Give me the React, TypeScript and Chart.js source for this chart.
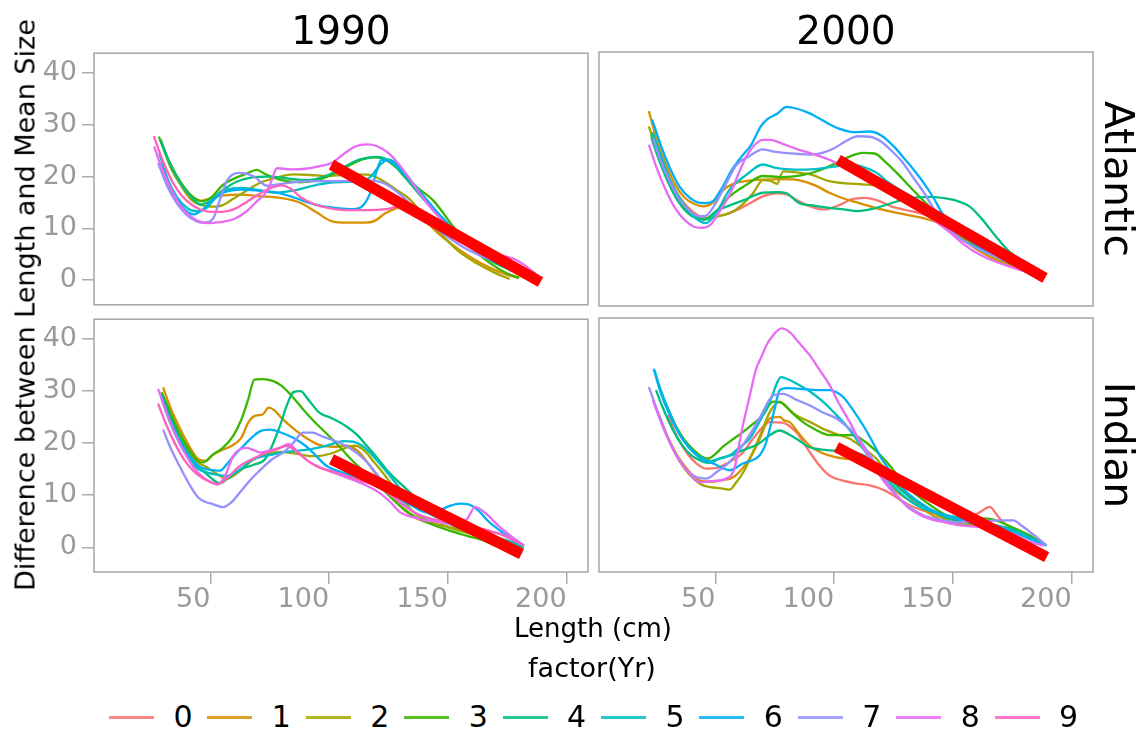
import React, { useEffect, useRef } from "react";
import { Chart, registerables } from "chart.js";
Chart.register(...registerables);

type P = [number, number];

const YEARS = ["0", "1", "2", "3", "4", "5", "6", "7", "8", "9"];
const COLORS = ["#F8766D", "#D89000", "#A3A500", "#39B600", "#00BF7D", "#00BFC4", "#00B0F6", "#9590FF", "#E76BF3", "#FF62BC"];
const COLUMN_TITLES = ["1990", "2000"];
const ROW_TITLES = ["Atlantic", "Indian"];
const X_TICKS = [50, 100, 150, 200];
const Y_TICKS = [0, 10, 20, 30, 40];
const X_LIMITS = [1, 209];
const Y_LIMITS = [-4.75, 43.8];
const Y_TITLE = "Difference between Length and Mean Size";
const X_TITLE = "Length (cm)";
const LEGEND_TITLE = "factor(Yr)";

// ---------- Atlantic 1990 ----------
const A90_1: P[] = [[29,27.2],[33,22.5],[38,18.5],[42,16.3],[46,15.3],[50,15.8],[55,16.3],[62,16.5],[71,16.2],[79,15.9],[88,14.9],[95,13],[101,11.4],[108,11.1],[115,11.1],[119,11.4],[124,13],[130,14],[138,12.5],[146,9],[155,5.8],[165,3],[175,1],[180,0.4]];
const A90_2: P[] = [[29,27],[33,22],[38,18],[42,15.5],[46,14.5],[50,14.2],[54,14.3],[60,15.8],[66,17.5],[71,18.8],[78,19.8],[85,20.4],[92,20.3],[99,20.1],[106,20.3],[113,20.4],[118,20.2],[124,18.8],[129,17.2],[134,15.6],[141,11.8],[148,8.5],[155,5.4],[162,3.3],[169,1.6],[176,0.2]];
const A90_3: P[] = [[28.3,27.7],[32,23.5],[36,20],[40,17.3],[44,15.6],[47,15.2],[51,16.2],[55,18.3],[60,19.6],[65,20.5],[69.5,21.3],[73,20.5],[80,19.3],[88,18.9],[95,19.3],[101,20.3],[108,22],[114,23.3],[119,23.7],[124,23.2],[130,21],[136,18.3],[144,15.3],[152,10.5],[160,6.2],[168,3.2],[175,1.3],[180,0.5]];
const A90_4: P[] = [[29,27],[33,22.5],[38,18.3],[42,16],[46,14.6],[50,15.3],[55,17.3],[61,19],[67,19.8],[75,20],[83,19.6],[91,19.3],[99,20.2],[106,21.8],[113,23.3],[120,23.8],[126,22.8],[132,19.8],[140,15.5],[148,11.5],[156,7.8],[165,4.5],[175,2.2],[185,0.5]];
const A90_5: P[] = [[28.5,24.5],[32,19.5],[36,16],[40,14],[44,13.3],[48,13.8],[52,15.8],[57,17.5],[63,17.8],[70,17.4],[78,16.9],[86,17.4],[94,18.3],[102,18.9],[110,19],[117,19.8],[122,22.5],[125,23.3],[130,21.8],[136,18.3],[144,13.8],[152,9.8],[162,5.8],[172,3.2],[182,1.3],[187,0.5]];
const A90_6: P[] = [[28.7,22.6],[32,18.5],[36,15.5],[40,13.3],[43,12.7],[47,13.7],[51,15.6],[56,17],[63,17.5],[70,17.3],[78,16.9],[85,16],[91,15],[97,14.3],[102,14],[110,13.7],[114,14.3],[117,16.5],[120,21],[122,23.2],[127,22.6],[135,18.8],[147,12.4],[158,7.3],[168,4.3],[176,2.8],[186,0.9]];
const A90_7: P[] = [[28,22.6],[32,18],[36,14.8],[40,12.6],[44,11.4],[47,11.1],[51,11.8],[54,15.5],[57,19.2],[62,20.7],[68,20.1],[74,18.2],[80,18.6],[88,19],[96,19.1],[104,19.1],[112,19.1],[118,19.2],[124,18.5],[130,16.5],[138,13],[146,9.7],[156,6.5],[166,4.3],[176,2.8],[186,1.2]];
const A90_8: P[] = [[26.3,25.8],[30,21],[34,17],[38,14],[42,12.2],[46,11.2],[49,11],[54,11.2],[60,11.8],[65,13.2],[70,15.4],[74,17.3],[76,19.5],[78,21.6],[84,21.4],[90,21.5],[96,22],[101,22.6],[106,24.3],[111,25.8],[116,26.2],[120,25.9],[125,24.5],[130,22],[135,18.8],[141,15],[147,11.8],[153,9.1],[160,6.8],[168,5.3],[174,4.6],[178,4.1],[182,3],[187,1.2]];
const A90_9: P[] = [[26.2,27.8],[30,23],[34,19],[38,16.3],[42,14.6],[46,13.6],[50,13.2],[55,13.2],[60,13.7],[65,15],[70,16.5],[75,17.7],[80,18.3],[84,17.6],[88,16],[94,14.6],[100,13.9],[108,13.5],[116,13.5],[124,13.7],[131,14.3],[137,13.7],[143,12],[150,9.5],[158,6.8],[167,4.5],[177,2.5],[186,0.9]];
const A90_FIT: P[] = [[101,22.3],[189,-0.35]];

// ---------- Atlantic 2000 ----------
const A00_0: P[] = [[24,27],[28,22],[33,17.5],[38,14.3],[43,12.5],[47,12],[52,12.5],[57,13.2],[63,14.5],[70,16.2],[76,16.8],[80,16.6],[85,15.3],[90,14.3],[96,13.7],[102,14.5],[107,15.6],[113,15.9],[119,15.3],[124,14.3],[130,13.6],[136,13],[142,12],[148,10.5],[155,8],[162,6.2],[170,4.2],[178,2.8],[185,1.5]];
const A00_1: P[] = [[22,32.5],[25,27.5],[29,22.5],[33,18.5],[37,16],[41,14.8],[45,14.3],[49,15],[53,17.3],[58,18.7],[64,19.2],[70,19.4],[78,19.5],[85,19.3],[92,18.3],[98,16.9],[104,15.8],[110,15],[119,13.8],[127,13],[134,12.4],[141,11.6],[147,10.5],[154,8],[161,5.8],[168,4.1],[175,2.9],[182,1.9],[188,0.9]];
const A00_2: P[] = [[22,29.6],[25,25.5],[29,21],[33,17.2],[37,14.6],[41,12.7],[45,11.8],[50,12.3],[56,13],[61,14.5],[66,16.9],[70,19.3],[73,19.2],[76,18.6],[78.5,21],[84,20.8],[90,20.4],[98,19.1],[105,18.7],[112,18.5],[119,18.2],[126,17.4],[133,15.8],[140,13.7],[147,11],[154,8.4],[161,6.2],[168,4.6],[175,3.2],[182,1.9],[188,0.9]];
const A00_3: P[] = [[23,28],[26,24],[30,19.5],[34,16],[38,13.5],[42,12.2],[45,11.8],[50,13.2],[56,16.2],[63,18.4],[70,20.1],[78,19.9],[86,20.2],[94,21.2],[101,22.6],[107,23.9],[112,24.5],[117,24.4],[122,22.6],[127,20.4],[132,18],[140,14.3],[147,11.3],[154,8.6],[161,6.4],[168,4.7],[175,3.2],[182,1.9],[188,0.9]];
const A00_4: P[] = [[23,27.5],[26,23.5],[30,19],[34,15.5],[38,13.2],[42,12],[46,11.8],[50,13.3],[55,14.3],[62,15.5],[70,16.9],[76,17],[80,16.8],[85,15],[92,14.4],[98,14],[104,13.7],[110,13.4],[116,13.8],[122,14.6],[129,15.6],[135,16],[141,16.1],[147,15.8],[152,15.3],[157,14.3],[162,12],[168,8.6],[173,6],[178,4.1],[183,2.5],[188,1.1]];
const A00_5: P[] = [[23.5,28.5],[27,24],[31,19.2],[35,15.8],[39,13.3],[43,11.6],[46,11.1],[50,12.8],[56,17.5],[63,20.3],[70,22.3],[75,21.7],[80,21.4],[87,21.3],[94,21.5],[100,21.9],[107,22.3],[113,21.7],[118,20.7],[123,18.8],[129,17.1],[135,15.5],[141,13.5],[147,11.5],[154,9.1],[161,7.3],[168,5.3],[175,3.6],[182,2.2],[188,1]];
const A00_6: P[] = [[23.4,30.9],[27,26],[31,21.5],[35,18],[39,16],[43,15],[46,14.9],[49,15.3],[53,18],[57,21.3],[61,23.8],[65,26],[69,29.5],[72,31],[76,32],[80,33.3],[84,33],[88,32.4],[93,31.3],[98,30],[103,29],[108,28.5],[115,28.6],[120,27.8],[125,25.8],[130,23.2],[134,21],[138,18.6],[142,15.8],[146,12.6],[150,10.6],[155,8.5],[162,6.3],[169,4.6],[176,3.3],[183,2],[188,1]];
const A00_7: P[] = [[23.7,27.4],[27,23],[31,18.8],[35,15.5],[39,13.5],[43,12.4],[46,12.5],[50,14.8],[54,18.2],[59,22.3],[64,23.8],[70,25.2],[74,24.8],[79,24.5],[85,24.3],[90,24.2],[95,24.5],[100,25.4],[105,26.8],[110,27.7],[115,27.6],[120,26.6],[124,25],[129,22.6],[133,20],[138,16.8],[142,13.8],[146,11.1],[152,8.5],[160,6.3],[168,4.7],[175,3.4],[182,1.9],[188,1]];
const A00_8: P[] = [[22,26.1],[25,22],[29,17.5],[33,14],[37,11.7],[41,10.4],[44,10.2],[48,10.8],[52,13.5],[56,16.5],[60,20.8],[63,23.8],[66,25.8],[70,27],[73,27],[78,26.3],[84,25.3],[91,24.3],[98,23.2],[104,21.8],[110,20.6],[116,19.5],[122,18.3],[129,16.2],[135,14.2],[141,12],[148,9.6],[155,6.9],[162,4.9],[170,3.4],[178,2.2],[186,1]];
const A00_FIT: P[] = [[101.7,23.2],[188.8,0.6]];

// ---------- Indian 1990 ----------
const I90_1: P[] = [[30.1,30.7],[33,27],[37,23],[41,19.5],[45,16.9],[48,16.6],[51,17.7],[55,18.7],[59,19.5],[63,21],[66,24],[69,25.3],[72,25.5],[74.5,26.8],[77,26.3],[80,24.8],[85,22.8],[91,20.8],[97,19.5],[102,19.3],[107,19.5],[112,18.5],[117,15.8],[122,12.5],[127,9.3],[132,7],[138,5.3],[148,4.2],[156,3.2],[164,2.2],[172,1.2],[180,0.3]];
const I90_2: P[] = [[29.5,29.5],[33,25.5],[37,21.5],[41,18.3],[45,16.2],[48,15.5],[52,14.3],[57,13.2],[62,14.5],[68,16.8],[74,17.9],[80,18.3],[86,18],[92,17.5],[97,17.6],[102,18.2],[107,19.1],[111,19.5],[115,18.5],[119,16.3],[124,13.5],[129,10.5],[135,7],[142,5],[150,3.8],[160,2.5],[169,1.3],[178,0.5]];
const I90_3: P[] = [[29.5,29.8],[33,26],[37,22],[41,18.8],[45,16.5],[47,16.3],[51,17.8],[55,19],[59.6,21.4],[63,24.5],[66,28.5],[68.5,32.2],[72,32.3],[76.5,31.9],[80,31],[84,29.2],[89,26.5],[94,24],[99,21.8],[104,19.5],[109,17],[114,14.8],[119,12.8],[124,10.5],[129,8.3],[135,6.2],[142,4.6],[150,3.3],[158,2.2],[165,1.3],[170,0.3]];
const I90_4: P[] = [[29.5,29.2],[33,25],[37,21],[41,17.8],[45,15.5],[49,13.8],[54,12.3],[58,13.5],[63,15],[68,15.8],[73,16.9],[76,19.5],[79.3,23.3],[82,27],[85,29.8],[88,30],[91,28.5],[96,25.8],[101,24.8],[107,23.3],[112,21.5],[116,19.4],[120,17.3],[124,15],[128,13.1],[133,11],[137,9.2],[141,7.3],[148,5.2],[155,3.6],[162,2.4],[170,1.3],[182,0]];
const I90_5: P[] = [[29.5,28.5],[33,24],[37,20],[41,17],[45,15],[48.4,14.4],[52,14],[57,13.7],[62,14.8],[68,16.9],[74,17.6],[80,18.2],[86,18.5],[92,18.8],[99,19.5],[106,20.4],[110,20.3],[114,19.5],[118,17.8],[122,15.7],[126,13.5],[130,11.2],[135,8.6],[141,6.7],[148,5.2],[155,4.1],[162,3],[170,2],[182,0.3]];
const I90_6: P[] = [[29.5,29],[33,24.5],[37,20.5],[41,17.6],[45,15.6],[48.4,15],[51,14.8],[54,14.7],[57,16],[60,17.6],[64,19.5],[68,21.3],[71,22.3],[75,22.6],[80,22],[85,21],[90,19.5],[94,17.8],[99,15.6],[106,14.3],[113,13.1],[120,11.7],[127,9.9],[134,8.2],[141,6.7],[146,7],[150,7.8],[155,8.4],[159,8.2],[163,7],[167,5],[172,3.2],[177,1.6],[182,0.3]];
const I90_7: P[] = [[30.1,22.6],[33,19.3],[37,15.6],[41,12.2],[45,9.5],[48,8.7],[51,8.3],[55.4,7.7],[59,8.7],[62.4,10.5],[66,12.5],[70,14.4],[76,16.9],[81,18.3],[85,20.1],[89,22],[93,22],[97,21.3],[102,20.5],[107,19.5],[112,18],[116,16.3],[121,13.5],[127,10.5],[132,8],[136,6.7],[145,5],[155,4.1],[165,3.2],[172,2.6],[177,1.8],[182,0.3]];
const I90_8: P[] = [[28,30.4],[31,26.5],[35,22],[39,18.3],[43,15.3],[47,13.4],[50,12.5],[53,12.1],[56,13.6],[59.6,17.5],[62,18.7],[65.2,19.1],[68,18.7],[71,18.2],[75,18.6],[79,19.1],[83,19.8],[87,18.2],[92,16.3],[98,15],[105,13.8],[113,12.4],[121,10.5],[126,8.6],[130,6.7],[136,5.7],[141,5.1],[148,4.9],[155,4.8],[158,5.4],[161.5,7.7],[166,6.5],[172,3.8],[177,2],[182,0.3]];
const I90_9: P[] = [[28,27.6],[31,24],[35,20],[39,16.8],[43,14.6],[47,13.2],[50,12.6],[53,12.1],[57,13.3],[62.4,15.6],[68,17],[73.7,18.2],[78,18.8],[82,19.5],[86,18.5],[91,16.6],[96,15.3],[102,14.5],[107,13.7],[113,12.8],[120,11.8],[126,10],[132,7.8],[138,6.2],[146,5.2],[155,4.4],[165,3.5],[172,2.5],[177,1.5],[182,0.3]];
const I90_FIT: P[] = [[101,16.9],[181,-1.3]];

// ---------- Indian 2000 ----------
const I00_0: P[] = [[30,25.2],[34,21],[38,18],[42,16],[46.2,15],[51,15.2],[56,16.3],[61,17.8],[67,21.4],[72.9,23.9],[78,23.8],[84,22],[89.7,18.2],[94,15.5],[98,13.7],[103,12.8],[109,12.2],[115,11.8],[121,10.9],[126,9.6],[131,8.2],[136,7.2],[142,6.5],[150,5.8],[156,5.6],[161.4,6.7],[165.6,7.7],[168,6.5],[171,4.8],[177,3.3],[182.5,2.2],[188,0.4]];
const I00_1: P[] = [[26.2,25.2],[30,21],[34,17.5],[38,15],[43.4,12.7],[48,12.5],[53,12.8],[58,13.5],[64.4,16.9],[68,20],[72.9,24.6],[77.1,24.9],[79,24.2],[81.3,23.9],[85,21.8],[89.7,19.4],[94,18.2],[98.2,17.5],[105,16.9],[110,16.8],[115,16],[119,14],[123.4,11.8],[128,10],[133.3,8.6],[140,6.5],[147.3,4.8],[154,4.3],[161.4,4.1],[168,3.8],[175.4,3.5],[182,2],[188,0.3]];
const I00_2: P[] = [[25.8,25.8],[29,22],[33,18],[37,15],[41,13],[44.8,11.8],[49,11.4],[53.2,11.2],[56,11],[58.8,12.4],[62,14.5],[65.8,18.2],[69,21.5],[72.9,25.8],[77.1,27.8],[80,26.8],[84,25.2],[90,23.9],[95.3,22.6],[101,21.6],[106.6,20.7],[112,19],[117.8,16.9],[122,14.5],[126.3,12.4],[132,9.8],[137.5,8],[144,6],[151.5,4.5],[160,4.2],[168.4,4.1],[175,3],[182.5,1.6],[188,0.5]];
const I00_3: P[] = [[26.2,30.9],[29,27.5],[33,23.5],[37,20.5],[41,18.5],[44,17.4],[46.9,16.9],[50,17.8],[53.2,19.2],[57,20.5],[61.6,22],[66,23.6],[70,25.2],[74.3,27.8],[78.5,27.4],[82,25.8],[86.9,23.9],[92,22.5],[98.2,21.4],[103,21.4],[108,21.4],[112,20.5],[115,19.4],[119,17.8],[123.4,15.6],[128,13],[133.3,10.5],[140,8.2],[147.3,6.1],[156,5.6],[165.6,5.4],[174,4],[182.5,2.2],[188,0.6]];
const I00_4: P[] = [[25,30],[28,26.5],[32,22.5],[36,19.5],[40,17.5],[44,16.5],[47.6,16.1],[52,17],[56,17.5],[62,18.6],[68,19.7],[72.9,21.4],[77.1,22.3],[80,21.8],[84.1,20.7],[89.7,19.1],[94,18.7],[98.2,18.5],[104,18.4],[110,18],[115,16.9],[119,15.2],[123.4,13.1],[128,11],[134.7,8.6],[141,7],[148.7,5.4],[158,4.6],[168.4,4.1],[178,3],[188,0.5]];
const I00_5: P[] = [[24.4,33.8],[27,30],[31,25.5],[35,21.5],[39,19],[43,17.2],[46.2,16.3],[51,16.8],[56,17.5],[60,19],[64.4,20.7],[68,23.5],[72.9,27.8],[77.8,32.5],[81,32],[84.1,31.3],[90,29.7],[95.3,27.8],[100,25.7],[103.8,23.9],[108,21.5],[112.2,18.8],[118,15.5],[123.4,12.4],[129,9.9],[134.7,8],[141,6.8],[147.3,6.1],[158,5],[168.4,4.1],[178,2.5],[188,0.4]];
const I00_6: P[] = [[24,34.1],[27,29.5],[31,25],[35,21.5],[39,19],[43,17.4],[46.2,16.6],[50,15.8],[53,15.1],[56,14.7],[59,15.3],[61.6,16],[65,16.5],[68.6,17.5],[71,19.5],[72.9,22.6],[75,26.5],[77.1,30],[80,30.4],[84.1,30.3],[90,30.1],[95,30],[98.2,30],[101,29.6],[103.8,28.7],[108,26.2],[112.2,23.3],[116,20.3],[119.2,17.5],[124,14.3],[129,11.2],[134,9.2],[140.3,7.3],[147,6],[154.4,5.1],[162,4.5],[168.4,4.1],[175,3],[182.5,1.6],[189.5,0.3]];
const I00_7: P[] = [[22,30.6],[25,26.8],[29,22],[33,18],[37,15.2],[41,13.6],[46.2,13.1],[51,14.5],[56,16.3],[60,18.5],[64.4,21.4],[69,25],[74.3,29],[78.5,29.3],[84,28.2],[89.7,27.1],[95,25.8],[101,24.6],[105,23.2],[109.4,21.4],[113,19],[117.8,15.6],[122,12.8],[126.3,9.9],[131,7.9],[137.5,6.1],[144,5.3],[151.5,4.8],[160,4.9],[168.4,5.1],[175.4,5.1],[179,4.1],[182.5,2.9],[189.5,0.3]];
const I00_8: P[] = [[23.7,28.1],[27,24],[31,19.8],[35,16.5],[39,14.2],[43.4,12.4],[48,12.6],[54.6,13.1],[58,15],[60.2,20.1],[61.6,23.3],[64,28],[67.2,34.1],[69.5,36.5],[71.5,38.6],[74,40.3],[77.8,41.8],[81.3,41.1],[85,39.2],[89.7,36.7],[94,33.8],[98.2,30.9],[102,27.5],[106.6,23.9],[111,20],[115,16.9],[119,13.8],[123.4,11.2],[128,9],[131.9,7.3],[136,6.2],[140.3,5.4],[147,4.7],[154.4,4.1],[162,3.8],[168.4,3.5],[175,2.6],[182.5,1],[188.1,0.3]];
const I00_FIT: P[] = [[101,19.1],[189.5,-1.9]];

const A90: (P[] | null)[] = [null, A90_1, A90_2, A90_3, A90_4, A90_5, A90_6, A90_7, A90_8, A90_9];
const A00: (P[] | null)[] = [A00_0, A00_1, A00_2, A00_3, A00_4, A00_5, A00_6, A00_7, A00_8, null];
const I90: (P[] | null)[] = [null, I90_1, I90_2, I90_3, I90_4, I90_5, I90_6, I90_7, I90_8, I90_9];
const I00: (P[] | null)[] = [I00_0, I00_1, I00_2, I00_3, I00_4, I00_5, I00_6, I00_7, I00_8, null];

const FONT = "'DejaVu Sans', 'Liberation Sans', sans-serif";
const GRAY_TEXT = "#9a9a9a";
const GRAY_LINE = "#ababab";

type Area = { left: number; top: number; right: number; bottom: number };

const boxPlugin = {
  id: "panelBox",
  beforeDatasetsDraw(chart: any) {
    const { ctx, chartArea: a } = chart;
    ctx.save();
    ctx.strokeStyle = GRAY_LINE;
    ctx.lineWidth = 1.6;
    ctx.strokeRect(a.left, a.top, a.right - a.left, a.bottom - a.top);
    ctx.restore();
  },
};

function Panel(props: { series: (P[] | null)[]; fit: P[]; area: Area; showX: boolean; showY: boolean }) {
  const { series, fit, area, showX, showY } = props;
  const ref = useRef<HTMLCanvasElement>(null);
  const left = showY ? 0 : area.left - 20;
  const top = area.top - 20;
  const width = area.right + 20 - left;
  const height = area.bottom + (showX ? 60 : 20) - top;

  useEffect(() => {
    const datasets: any[] = [];
    datasets.push({
      label: "fit",
      data: fit.map(([x, y]) => ({ x, y })),
      borderColor: "#FF0000",
      borderWidth: 11,
      borderCapStyle: "butt",
      tension: 0,
      order: 0,
    });
    series.forEach((s, i) => {
      if (!s) return;
      datasets.push({
        label: YEARS[i],
        data: s.map(([x, y]) => ({ x, y })),
        borderColor: COLORS[i],
        borderWidth: 2.3,
        cubicInterpolationMode: "monotone",
        order: 10 - i,
      });
    });
    const tickFont = { family: "DejaVu Sans", size: 27 };
    const chart = new Chart(ref.current as HTMLCanvasElement, {
      type: "line",
      data: { datasets },
      plugins: [boxPlugin],
      options: {
        animation: false,
        responsive: false,
        maintainAspectRatio: false,
        events: [],
        layout: { padding: { left: showY ? 0 : 20, top: 20, right: 20, bottom: showX ? 0 : 20 } },
        elements: { point: { radius: 0 } },
        plugins: { legend: { display: false }, tooltip: { enabled: false } },
        scales: {
          x: {
            type: "linear",
            display: showX,
            min: X_LIMITS[0],
            max: X_LIMITS[1],
            afterBuildTicks: (s: any) => {
              s.ticks = X_TICKS.map((v) => ({ value: v }));
            },
            afterFit: (s: any) => {
              if (showX) s.height = 60;
            },
            ticks: { font: tickFont, color: GRAY_TEXT, padding: 0, maxRotation: 0, autoSkip: false, align: "end" },
            grid: { drawOnChartArea: false, drawTicks: true, tickLength: 12, color: GRAY_LINE, lineWidth: 1.5 },
            border: { display: false },
          },
          y: {
            type: "linear",
            display: showY,
            min: Y_LIMITS[0],
            max: Y_LIMITS[1],
            afterBuildTicks: (s: any) => {
              s.ticks = Y_TICKS.map((v) => ({ value: v }));
            },
            afterFit: (s: any) => {
              if (showY) s.width = area.left;
            },
            ticks: { font: tickFont, color: GRAY_TEXT, padding: 5, autoSkip: false },
            grid: { drawOnChartArea: false, drawTicks: true, tickLength: 12, color: GRAY_LINE, lineWidth: 1.5 },
            border: { display: false },
          },
        },
      } as any,
    });
    return () => chart.destroy();
  }, []);

  return (
    <canvas
      ref={ref}
      width={width}
      height={height}
      style={{ position: "absolute", left, top, width, height }}
    />
  );
}

function Label(props: { text: string; x: number; y: number; size: number; rotate?: number; color?: string }) {
  const { text, x, y, size, rotate = 0, color = "#000" } = props;
  return (
    <div
      style={{
        position: "absolute",
        left: x,
        top: y,
        transform: `translate(-50%, -50%) rotate(${rotate}deg)`,
        fontFamily: FONT,
        fontSize: size,
        lineHeight: 1,
        whiteSpace: "nowrap",
        color,
      }}
    >
      {text}
    </div>
  );
}

export default function App() {
  const colL: [number, number] = [94, 588];
  const colR: [number, number] = [599, 1093];
  const rowT: [number, number] = [52, 306];
  const rowB: [number, number] = [318, 572];
  const mk = (c: [number, number], r: [number, number]): Area => ({ left: c[0], right: c[1], top: r[0], bottom: r[1] });

  return (
    <div style={{ position: "absolute", left: 0, top: 0, width: 1145, height: 735, background: "#fff", overflow: "hidden" }}>
      <Panel series={A90} fit={A90_FIT} area={mk(colL, rowT)} showX={false} showY={true} />
      <Panel series={A00} fit={A00_FIT} area={mk(colR, rowT)} showX={false} showY={false} />
      <Panel series={I90} fit={I90_FIT} area={mk(colL, rowB)} showX={true} showY={true} />
      <Panel series={I00} fit={I00_FIT} area={mk(colR, rowB)} showX={true} showY={false} />

      <Label text={COLUMN_TITLES[0]} x={(colL[0] + colL[1]) / 2} y={30} size={39} />
      <Label text={COLUMN_TITLES[1]} x={(colR[0] + colR[1]) / 2} y={30} size={39} />
      <Label text={ROW_TITLES[0]} x={1118} y={(rowT[0] + rowT[1]) / 2} size={41} rotate={90} />
      <Label text={ROW_TITLES[1]} x={1118} y={(rowB[0] + rowB[1]) / 2} size={41} rotate={90} />
      <Label text={Y_TITLE} x={25} y={305} size={27} rotate={-90} />
      <Label text={X_TITLE} x={593} y={628} size={26} />
      <Label text={LEGEND_TITLE} x={592} y={667} size={27} />

      {YEARS.map((yr, i) => {
        const x0 = 109 + 98.4 * i;
        return (
          <React.Fragment key={yr}>
            <div style={{ position: "absolute", left: x0, top: 715.5, width: 45, height: 3, background: COLORS[i], opacity: 0.85 }} />
            <Label text={yr} x={x0 + 74} y={717} size={30} />
          </React.Fragment>
        );
      })}
    </div>
  );
}
